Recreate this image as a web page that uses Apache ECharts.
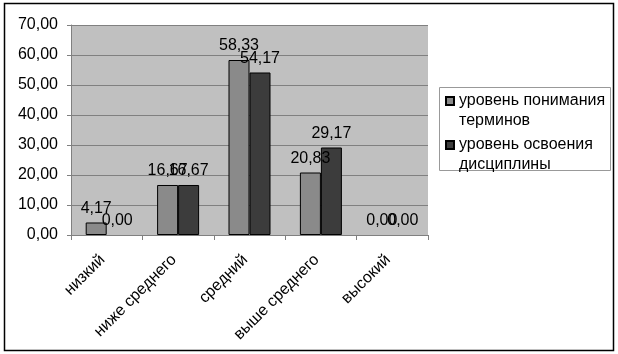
<!DOCTYPE html>
<html>
<head>
<meta charset="utf-8">
<script src="https://cdn.jsdelivr.net/npm/echarts@6/dist/echarts.min.js"></script>
<style>
html, body { margin: 0; padding: 0; background: #fff; }
#box1 { width: 618px; height: 354px; }
</style>
</head>
<body>
<div id="box1"></div>
<script>
var categories = ['низкий', 'ниже среднего', 'средний', 'выше среднего', 'высокий'];
var termsValues = [4.17, 16.67, 58.33, 20.83, 0.00];
var disciplineValues = [0.00, 16.67, 54.17, 29.17, 0.00];
var seriesNames = ['уровень понимания терминов', 'уровень освоения дисциплины'];
// blank first line so the icon sits next to the first text line
var legendLines = {
    'уровень понимания терминов': ' \nуровень понимания\nтерминов',
    'уровень освоения дисциплины': ' \nуровень освоения\nдисциплины'
};

var dom = document.getElementById("box1");
var myChart = echarts.init(dom);

function fmt(v) {
    return Number(v).toFixed(2).replace('.', ',');
}

// zero bars get no outline, like the original
function barData(values) {
    return values.map(function (v) {
        return v === 0 ? { value: v, itemStyle: { borderWidth: 0 } } : v;
    });
}

var font = 'Arial, "Liberation Sans", sans-serif';

var legendText = {
    color: '#000',
    fontSize: 16,
    fontFamily: font,
    lineHeight: 20
};

var labelStyle = {
    show: true, position: 'top', distance: 6,
    color: '#000', fontSize: 16, fontFamily: font,
    formatter: function (p) { return fmt(p.value); }
};

var option = {
    animation: false,
    textStyle: { fontFamily: font },
    grid: {
        left: 71, top: 25, width: 357, height: 210,
        show: true,
        backgroundColor: '#c0c0c0',
        borderWidth: 0
    },
    graphic: [
        {
            type: 'rect',
            shape: { x: 4.5, y: 3.5, width: 609, height: 347 },
            style: { fill: 'none', stroke: '#000', lineWidth: 1.5 },
            silent: true
        },
        {
            type: 'rect',
            shape: { x: 439.5, y: 87.5, width: 171, height: 83 },
            style: { fill: 'none', stroke: '#999', lineWidth: 1 },
            silent: true
        }
    ],
    legend: [
        {
            data: [seriesNames[0]],
            left: 445, top: 71, padding: 0,
            itemWidth: 8, itemHeight: 8,
            icon: 'rect',
            formatter: function (n) { return legendLines[n]; },
            textStyle: legendText
        },
        {
            data: [seriesNames[1]],
            left: 445, top: 115, padding: 0,
            itemWidth: 8, itemHeight: 8,
            icon: 'rect',
            formatter: function (n) { return legendLines[n]; },
            textStyle: legendText
        }
    ],
    xAxis: {
        type: 'category',
        data: categories,
        axisLine: { lineStyle: { color: '#808080', width: 1 } },
        axisTick: { show: true, length: 5, lineStyle: { color: '#808080' } },
        axisLabel: {
            rotate: 45,
            interval: 0,
            margin: 18,
            padding: [0, 6, 0, 0],
            color: '#000',
            fontSize: 16,
            fontFamily: font
        }
    },
    yAxis: {
        type: 'value',
        min: 0, max: 70, interval: 10,
        axisLine: { show: true, lineStyle: { color: '#808080' } },
        axisTick: { show: true, length: 4, lineStyle: { color: '#808080' } },
        axisLabel: {
            margin: 13,
            color: '#000',
            fontSize: 16,
            fontFamily: font,
            formatter: fmt
        },
        splitLine: { lineStyle: { color: '#808080', width: 1 } }
    },
    series: [
        {
            name: seriesNames[0],
            type: 'bar',
            data: barData(termsValues),
            barWidth: 21,
            barGap: '0%',
            itemStyle: { color: '#8a8a8a', borderColor: '#000', borderWidth: 1 },
            label: labelStyle
        },
        {
            name: seriesNames[1],
            type: 'bar',
            data: barData(disciplineValues),
            barWidth: 21,
            barGap: '0%',
            itemStyle: { color: '#3c3c3c', borderColor: '#000', borderWidth: 1 },
            label: labelStyle
        }
    ]
};

if (option && typeof option === "object") {
    myChart.setOption(option, true);
}
</script>
</body>
</html>
